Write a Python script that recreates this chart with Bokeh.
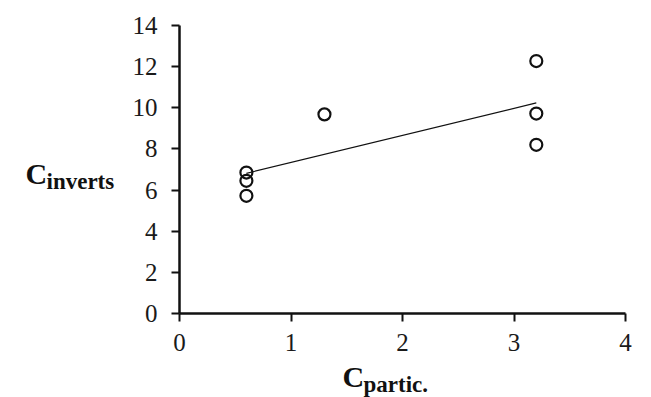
import numpy as np
from bokeh.plotting import figure
from bokeh.models import Range1d, FixedTicker, Label, ColumnDataSource
from bokeh.embed import file_html
from bokeh.resources import INLINE

# Data
c_partic = [0.6, 0.6, 0.6, 1.3, 3.2, 3.2, 3.2]
c_inverts = [6.85, 6.45, 5.72, 9.68, 12.27, 9.72, 8.20]
x_ticks = [0, 1, 2, 3, 4]
y_ticks = [0, 2, 4, 6, 8, 10, 12, 14]

# Linear trend (least squares) over the observed x span
slope, intercept = np.polyfit(c_partic, c_inverts, 1)
trend_x = [min(c_partic), max(c_partic)]
trend_y = [slope * v + intercept for v in trend_x]

W, H = 643, 397
# plotting area (in canvas pixels) where the axes sit
X0, X1, Y0, Y1 = 179, 625, 313, 25
px_x = (X1 - X0) / 4.0
px_y = (Y0 - Y1) / 14.0
x_range = Range1d(-X0 / px_x, (W - X0) / px_x)
y_range = Range1d(-(H - Y0) / px_y, Y0 / px_y)

p = figure(width=W, height=H, output_backend="svg", toolbar_location=None,
           x_range=x_range, y_range=y_range,
           min_border_left=0, min_border_right=0,
           min_border_top=0, min_border_bottom=0)
p.outline_line_color = None
p.xgrid.visible = False
p.ygrid.visible = False
p.background_fill_color = "white"
p.border_fill_color = "white"

for ax in (p.xaxis[0], p.yaxis[0]):
    ax.fixed_location = 0
    ax.axis_line_width = 2.5
    ax.axis_line_color = "#111111"
    ax.major_tick_line_width = 2
    ax.major_tick_line_color = "#111111"
    ax.major_tick_in = 0
    ax.major_tick_out = 8
    ax.minor_tick_line_color = None
    ax.major_label_text_font = "Liberation Serif"
    ax.major_label_text_font_size = "25px"
    ax.major_label_text_color = "#1a1a1a"

p.xaxis[0].ticker = FixedTicker(ticks=x_ticks)
p.yaxis[0].ticker = FixedTicker(ticks=y_ticks)
p.xaxis[0].bounds = (x_ticks[0], x_ticks[-1])
p.yaxis[0].bounds = (y_ticks[0], y_ticks[-1])
p.xaxis[0].major_label_standoff = 12
p.yaxis[0].major_label_standoff = 14

src = ColumnDataSource(dict(x=c_partic, y=c_inverts))
p.line(trend_x, trend_y, line_color="#111111", line_width=1.2)
p.scatter("x", "y", source=src, size=12, marker="circle",
          fill_color=None, line_color="#111111", line_width=2.2)

font = "Liberation Serif"

def lab(x, y, text, size):
    p.add_layout(Label(x=x, y=y, x_units="canvas", y_units="canvas", text=text,
                       text_font=font, text_font_size=size, text_font_style="bold",
                       text_baseline="bottom", text_color="#111111"))

# Y axis label: C with subscript "inverts"
lab(25, 189, "C", "30px")
lab(46, 193, "inverts", "23px")
# X axis label: C with subscript "partic."
lab(342, 392, "C", "30px")
lab(363, 396, "partic.", "23px")

open("out.html", "w").write(file_html(p, INLINE))
